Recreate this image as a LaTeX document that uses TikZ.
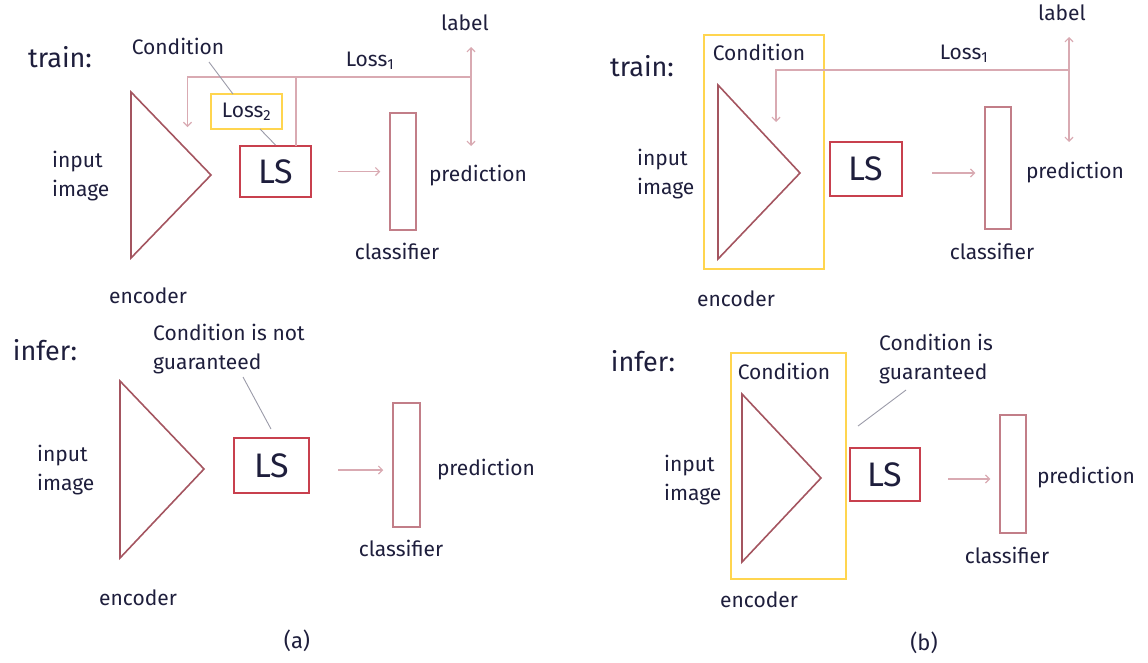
\documentclass[tikz,border=0pt]{standalone}
\usepackage{fontspec}
\setmainfont{Fira Sans}
\usetikzlibrary{arrows.meta}
\definecolor{txtc}{HTML}{1E1E3C}
\definecolor{encc}{HTML}{A45560}
\definecolor{lsc}{HTML}{C8404E}
\definecolor{clsc}{HTML}{C27E88}
\definecolor{arrc}{HTML}{D9AAB2}
\definecolor{yelc}{HTML}{FFD54F}
\definecolor{leadc}{HTML}{9A9AA8}
\tikzset{
  txt/.style={inner sep=0pt, text=txtc, font=\fontsize{21}{29}\selectfont},
  big/.style={inner sep=0pt, text=txtc, font=\fontsize{27}{30}\selectfont},
  lsbox/.style={draw=lsc, line width=2pt, inner sep=0pt, text=txtc, font=\fontsize{34}{36}\selectfont},
  clsbox/.style={draw=clsc, line width=1.5pt, inner sep=0pt, minimum width=26pt},
  ybox/.style={draw=yelc, line width=1.5pt, inner sep=0pt},
  enc/.style={draw=encc, line width=1.6pt, line join=miter},
  flow/.style={draw=arrc, line width=1.2pt, -{Straight Barb[length=4pt,width=8pt]}},
  flowline/.style={draw=arrc, line width=1.2pt},
  flowboth/.style={draw=arrc, line width=1.2pt, {Straight Barb[length=4pt,width=8pt]}-{Straight Barb[length=4pt,width=8pt]}},
  leader/.style={draw=leadc, line width=0.9pt}
}
\begin{document}
\begin{tikzpicture}[x=1pt,y=-1pt]
\useasboundingbox (0,0) rectangle (1148,662);
% ===== (a) train =====
\node[big] (traina) at (60,57) {train:};
\node[txt] (conda) at (178,46) {Condition};
\node[txt] (loss1a) at (370,61) {Loss\textsubscript{1}};
\node[txt] (labela) at (465,23) {label};
\node[txt, anchor=west, align=left] (inpa) at (52,176) {input\\image};
\coordinate (ea1) at (131,92); \coordinate (ea2) at (131,258); \coordinate (ea3) at (211,175);
\draw[enc] (ea1) -- (ea3) -- (ea2) -- cycle;
\node[txt] (enca) at (148,296) {encoder};
\node[lsbox, minimum width=71pt, minimum height=51pt] (lsa) at (275.5,171.5) {LS};
\node[clsbox, minimum height=117pt] (cla) at (403,171.5) {};
\node[txt] (clsa) at (397,251) {classifier};
\node[txt] (preda) at (478,176) {prediction};
\draw[flow] ([xshift=26pt]lsa.east) -- ([xshift=-9pt]cla.west);
\node[ybox, minimum width=71pt, minimum height=35pt, text=txtc, font=\fontsize{21}{22}\selectfont] (l2a) at (246.5,111.5) {Loss\textsubscript{2}};
\coordinate (ja) at (471,77);
\coordinate (jatop) at (471,47);
\coordinate (jabot) at (471,146);
\coordinate (jal) at (187.5,127);
\coordinate (tapa) at (296,146);
\draw[flowboth] (jabot) -- (jatop);
\draw[flow] (ja) -| (jal);
\draw[flowline] (tapa) -- (tapa |- ja);
\coordinate (cla1) at (209,62); \coordinate (cla2) at (233,94);
\draw[leader] (cla1) -- (cla2);
\coordinate (l2s) at (260,129);
\draw[leader] (l2s) -- (lsa.north);
% ===== (a) infer =====
\node[big] (infera) at (45,350) {infer:};
\node[txt, anchor=west, align=left] (cnga) at (153,349) {Condition is not\\guaranteed};
\coordinate (ga1) at (243,377); \coordinate (ga2) at (271,429);
\draw[leader] (ga1) -- (ga2);
\node[txt, anchor=west, align=left] (inpai) at (37,470) {input\\image};
\coordinate (eb1) at (120,381); \coordinate (eb2) at (120,558); \coordinate (eb3) at (204,469);
\draw[enc] (eb1) -- (eb3) -- (eb2) -- cycle;
\node[txt] (encai) at (138,598) {encoder};
\node[lsbox, minimum width=75pt, minimum height=55pt] (lsai) at (271.5,465.5) {LS};
\node[clsbox, minimum width=27pt, minimum height=124pt] (clai) at (406.5,465) {};
\node[txt] (clsai) at (401,548) {classifier};
\node[txt] (predai) at (486,470) {prediction};
\draw[flow] ([xshift=28pt]lsai.east |- 0,470) -- ([xshift=-9pt]clai.west |- 0,470);
\node[txt, font=\fontsize{22}{24}\selectfont] (capa) at (297,641) {(a)};
% ===== (b) train =====
\node[big] (trainb) at (642,66) {train:};
\node[ybox, minimum width=120pt, minimum height=234pt] (yb) at (764,152) {};
\node[txt] (condb) at (759,52) {Condition};
\node[txt] (loss1b) at (964,54) {Loss\textsubscript{1}};
\node[txt] (labelb) at (1062,13) {label};
\node[txt, anchor=west, align=left] (inpb) at (637,174) {input\\image};
\coordinate (ec1) at (718,85); \coordinate (ec2) at (718,259); \coordinate (ec3) at (800,173);
\draw[enc] (ec1) -- (ec3) -- (ec2) -- cycle;
\node[txt] (encb) at (736,299) {encoder};
\node[lsbox, minimum width=72pt, minimum height=54pt] (lsb) at (866,169) {LS};
\node[clsbox, minimum height=122pt] (clb) at (998,168) {};
\node[txt] (clsb) at (992,251) {classifier};
\node[txt] (predb) at (1075,173) {prediction};
\draw[flow] ([xshift=29pt]lsb.east |- 0,173) -- ([xshift=-9pt]clb.west |- 0,173);
\coordinate (jb) at (1069,70);
\coordinate (jbtop) at (1069,37);
\coordinate (jbbot) at (1069,142);
\coordinate (jbl) at (776,122);
\draw[flowboth] (jbbot) -- (jbtop);
\draw[flow] (jb) -| (jbl);
% ===== (b) infer =====
\node[big] (inferb) at (643,361) {infer:};
\node[ybox, minimum width=115pt, minimum height=226pt] (ybi) at (788.5,466) {};
\node[txt] (condbi) at (784,371) {Condition};
\node[txt, anchor=west, align=left] (cngb) at (879,359) {Condition is\\guaranteed};
\coordinate (gb1) at (906,390); \coordinate (gb2) at (858,426);
\draw[leader] (gb1) -- (gb2);
\node[txt, anchor=west, align=left] (inpbi) at (664,480) {input\\image};
\coordinate (ed1) at (742,394); \coordinate (ed2) at (742,562); \coordinate (ed3) at (821,478);
\draw[enc] (ed1) -- (ed3) -- (ed2) -- cycle;
\node[txt] (encbi) at (759,600) {encoder};
\node[lsbox, minimum width=70pt, minimum height=53pt] (lsbi) at (885,474.5) {LS};
\node[clsbox, minimum height=118pt] (clbi) at (1013,474) {};
\node[txt] (clsbi) at (1007,555) {classifier};
\node[txt] (predbi) at (1086,478) {prediction};
\draw[flow] ([xshift=27pt]lsbi.east |- 0,479) -- ([xshift=-9pt]clbi.west |- 0,479);
\node[txt, font=\fontsize{22}{24}\selectfont] (capb) at (924,643) {(b)};
\end{tikzpicture}
\end{document}
